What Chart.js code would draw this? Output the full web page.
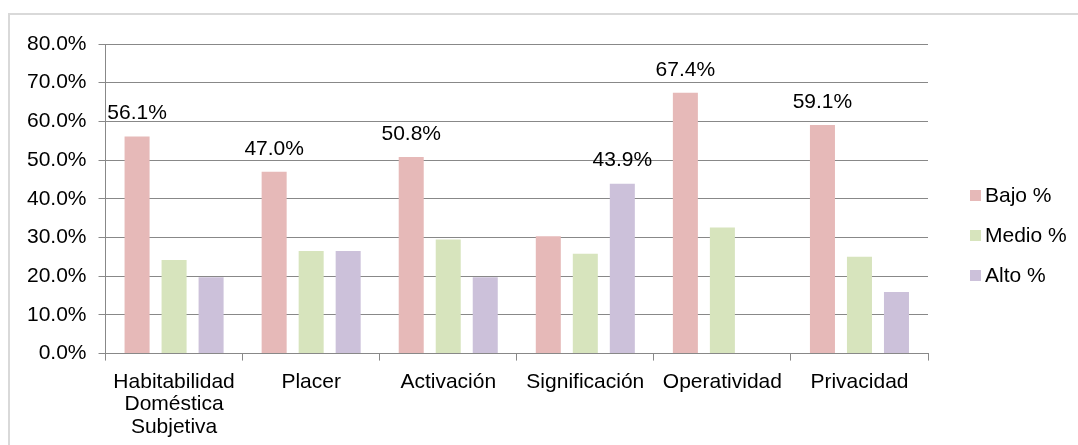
<!DOCTYPE html>
<html>
<head>
<meta charset="utf-8">
<script src="https://cdn.jsdelivr.net/npm/chart.js@4.4.1/dist/chart.umd.min.js"></script>
<style>
  html, body { margin: 0; padding: 0; background: #fff; }
  #wrap { position: relative; width: 1078px; height: 445px; overflow: hidden; }
  #frame { position: absolute; left: 8px; top: 13px; width: 1200px; height: 600px; border: 2px solid #d9d9d9; }
  #myChart { position: absolute; left: 0; top: 0; }
  #legend { position: absolute; left: 970px; top: 183px; font-family: 'Liberation Sans', Arial, sans-serif; font-size: 21px; color: #000; }
  .item { height: 40px; line-height: 24px; white-space: nowrap; }
  .box { display: inline-block; width: 11px; height: 11px; margin-right: 4px; vertical-align: 1px; }
</style>
</head>
<body>
<div id="wrap">
  <div id="frame"></div>
  <canvas id="myChart" width="1078" height="448"></canvas>
  <div id="legend"></div>
</div>
<script>
// categories and series (percent)
const categories = [
    ['Habitabilidad', 'Doméstica', 'Subjetiva'],
    'Placer',
    'Activación',
    'Significación',
    'Operatividad',
    'Privacidad'
];
const seriesNames = ['Bajo %', 'Medio %', 'Alto %'];
const bajo = [56.1, 47.0, 50.8, 30.3, 67.4, 59.1];
const medio = [24.2, 26.5, 29.5, 25.8, 32.6, 25.0];
const alto = [19.7, 26.5, 19.7, 43.9, 0, 15.9];
const colors = ['#e6b9b8', '#d7e4bd', '#ccc1da'];
const yTicks = [0, 10, 20, 30, 40, 50, 60, 70, 80];

Chart.defaults.font.family = "'Liberation Sans', Arial, sans-serif";
Chart.defaults.font.size = 21;
Chart.defaults.color = '#000';

// label only the tallest bar of each category
const maxLabels = {
    id: 'maxLabels',
    afterDatasetsDraw(chart) {
        const ctx = chart.ctx;
        ctx.save();
        ctx.font = "21px 'Liberation Sans', Arial, sans-serif";
        ctx.fillStyle = '#000';
        ctx.textAlign = 'center';
        ctx.textBaseline = 'middle';
        categories.forEach((c, i) => {
            let best = 0;
            chart.data.datasets.forEach((ds, d) => {
                if (ds.data[i] > chart.data.datasets[best].data[i]) best = d;
            });
            const bar = chart.getDatasetMeta(best).data[i];
            const v = chart.data.datasets[best].data[i];
            ctx.fillText(v.toFixed(1) + '%', bar.x, bar.y - 23);
        });
        ctx.restore();
    }
};

const ctx = document.getElementById('myChart').getContext('2d');
new Chart(ctx, {
    type: 'bar',
    data: {
        labels: categories,
        datasets: [bajo, medio, alto].map((d, i) => ({
            label: seriesNames[i],
            data: d,
            backgroundColor: colors[i],
            categoryPercentage: 0.81,
            barPercentage: 0.676
        }))
    },
    options: {
        responsive: false,
        animation: false,
        layout: { padding: { left: 15, top: 44, right: 150, bottom: 0 } },
        plugins: {
            legend: { display: false },
            tooltip: { enabled: false }
        },
        scales: {
            x: {
                grid: { drawOnChartArea: false, drawTicks: true, tickLength: 7, color: '#888' },
                border: { color: '#888' },
                ticks: { padding: 10, maxRotation: 0, autoSkip: false, font: { lineHeight: 1.07 } }
            },
            y: {
                min: 0,
                max: 80,
                afterBuildTicks: axis => { axis.ticks = yTicks.map(v => ({ value: v })); },
                grid: { color: '#888', tickLength: 7 },
                border: { color: '#888' },
                ticks: { padding: 12, callback: v => v.toFixed(1) + '%' }
            }
        }
    },
    plugins: [maxLabels]
});

// legend
const legend = document.getElementById('legend');
seriesNames.forEach((name, i) => {
    const row = document.createElement('div');
    row.className = 'item';
    row.innerHTML = `<span class="box" style="background:${colors[i]}"></span>${name}`;
    legend.appendChild(row);
});
</script>
</body>
</html>
